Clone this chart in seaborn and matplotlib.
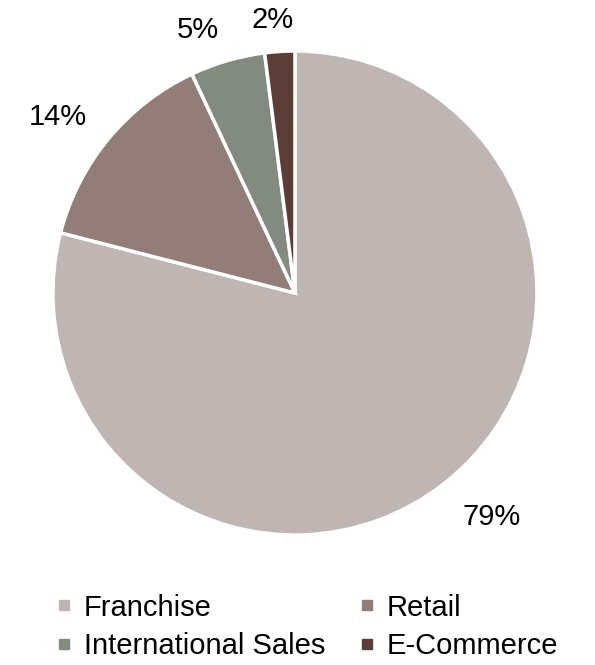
import numpy as np
import matplotlib
matplotlib.use("Agg")
import matplotlib.pyplot as plt
import seaborn as sns
from matplotlib.lines import Line2D

# Revenue mix by channel
categories = ["Franchise", "Retail", "International Sales", "E-Commerce"]
shares = [79, 14, 5, 2]
colors = ["#BFB5B3", "#927D78", "#838B80", "#5C3D38"]

sns.set_theme(style="white")
plt.rcParams["font.family"] = ["Liberation Sans", "DejaVu Sans"]

fig = plt.figure(figsize=(5.95, 6.65), dpi=100)
ax = fig.add_axes([0.089, 0.1955, 0.8134, 0.7278])

wedges, _ = ax.pie(
    shares,
    colors=colors,
    startangle=90,
    counterclock=False,
    radius=1.0,
    wedgeprops=dict(edgecolor="white", linewidth=2.5),
)
ax.set_xlim(-1, 1)
ax.set_ylim(-1, 1)
ax.set_aspect("auto")
ax.axis("off")

# Percentage labels placed outside each wedge
label_dist = [1.23, 1.22, 1.16, 1.13]
angle_shift = [3.5, 3.0, 4.0, 1.0]
for w, v, d, s in zip(wedges, shares, label_dist, angle_shift):
    mid = np.deg2rad((w.theta1 + w.theta2) / 2 + s)
    ax.text(d * np.cos(mid), d * np.sin(mid), f"{v}%", ha="center", va="center",
            fontsize=21, color="black")

# Legend laid out row by row: matplotlib fills columns first, so reorder
order = [0, 2, 1, 3]
handles = [Line2D([0], [0], marker="s", linestyle="none", markersize=7.5,
                  markerfacecolor=colors[i], markeredgecolor=colors[i]) for i in order]
labels = [categories[i] for i in order]
leg = fig.legend(handles, labels, loc="center", bbox_to_anchor=(0.517, 0.0575),
                 ncol=2, frameon=False, fontsize=21, handlelength=0.5,
                 handletextpad=0.42, columnspacing=1.2, labelspacing=0.35)
for t in leg.get_texts():
    t.set_color("black")

fig.savefig("out.png", dpi=100, facecolor="white")
